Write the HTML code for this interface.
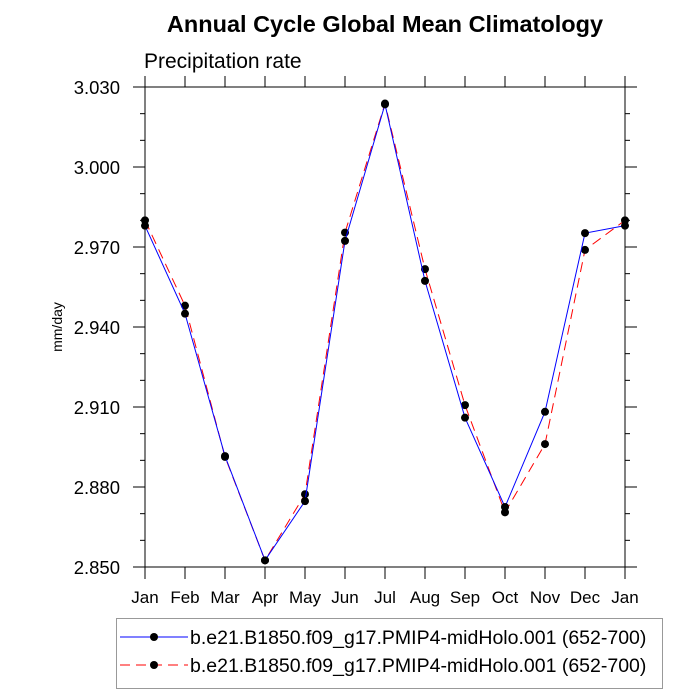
<!DOCTYPE html>
<html><head><meta charset="utf-8"><style>
body{margin:0;background:#fff;}
svg{display:block;font-family:"Liberation Sans",sans-serif;}
</style></head><body>
<svg id="chart" width="700" height="700" viewBox="0 0 700 700" xmlns="http://www.w3.org/2000/svg">
<text x="385" y="32" text-anchor="middle" font-size="23.5" font-weight="bold">Annual Cycle Global Mean Climatology</text>
<text x="144" y="68" font-size="21">Precipitation rate</text>
<text transform="translate(62,327) rotate(-90)" text-anchor="middle" font-size="14">mm/day</text>
<g id="axes"></g>
<g id="series"></g>
<g>
<rect x="116.5" y="618.5" width="546" height="70" fill="#fff" stroke="#999" stroke-width="1"/>
<g>
<line x1="120" y1="637" x2="188" y2="637" stroke="#0000ff" stroke-width="1"/>
<circle cx="154" cy="637" r="4" fill="#000"/>
<text x="190" y="644" font-size="19.5">b.e21.B1850.f09_g17.PMIP4-midHolo.001 (652-700)</text>
</g>
<g>
<line x1="120" y1="665" x2="188" y2="665" stroke="#ff0000" stroke-width="1" stroke-dasharray="10,6"/>
<circle cx="154" cy="665" r="4" fill="#000"/>
<text x="190" y="672" font-size="19.5">b.e21.B1850.f09_g17.PMIP4-midHolo.001 (652-700)</text>
</g>
</g>
</svg>
<script>
const months = ["Jan","Feb","Mar","Apr","May","Jun","Jul","Aug","Sep","Oct","Nov","Dec","Jan"];
const yTicks = [2.850,2.880,2.910,2.940,2.970,3.000,3.030];
const yTickLabels = ["2.850","2.880","2.910","2.940","2.970","3.000","3.030"];
const seriesBlue = [2.978,2.945,2.8916,2.8525,2.8747,2.9723,3.0235,2.9573,2.906,2.8725,2.9082,2.9752,2.978];
const seriesRed = [2.980,2.948,2.8913,2.8525,2.8773,2.9754,3.0238,2.9617,2.9107,2.8705,2.8961,2.9689,2.980];

const L=145,R=625,T=87,B=567,yMin=2.850,yMax=3.030;
const xs=i=>L+(R-L)*i/(months.length-1);
const ys=v=>B-(v-yMin)/(yMax-yMin)*(B-T);
const NS="http://www.w3.org/2000/svg";
const axes=document.getElementById('axes'), ser=document.getElementById('series');
function mk(tag,attrs,parent){const e=document.createElementNS(NS,tag);for(const k in attrs)e.setAttribute(k,attrs[k]);parent.appendChild(e);return e;}

const frame=mk('rect',{x:L,y:T,width:R-L,height:B-T,fill:'none',stroke:'#000','stroke-width':1},axes);


months.forEach((m,i)=>{
  const x=xs(i);
  mk('line',{x1:x,y1:B,x2:x,y2:B+12,stroke:'#000'},axes);
  mk('line',{x1:x,y1:T,x2:x,y2:T-11,stroke:'#000'},axes);
  const t=mk('text',{x:x,y:603,'text-anchor':'middle','font-size':17},axes);
  t.textContent=m;
  
  
});
for(let v=yMin;v<=yMax+1e-9;v+=0.010){
  const y=ys(v);
  mk('line',{x1:L,y1:y,x2:L-5,y2:y,stroke:'#000'},axes);
  mk('line',{x1:R,y1:y,x2:R+5,y2:y,stroke:'#000'},axes);
}
yTicks.forEach((v,i)=>{
  const y=ys(v);
  mk('line',{x1:L,y1:y,x2:L-12,y2:y,stroke:'#000'},axes);
  mk('line',{x1:R,y1:y,x2:R+12,y2:y,stroke:'#000'},axes);
  const t=mk('text',{x:120,y:y+7,'text-anchor':'end','font-size':18.5},axes);
  t.textContent=yTickLabels[i];
  
  
});
function drawSeries(vals,color,dash,name){
  const pts=vals.map((v,i)=>xs(i)+','+ys(v)).join(' ');
  const pl=mk('polyline',{points:pts,fill:'none',stroke:color,'stroke-width':1,'stroke-dasharray':dash},ser);
  
  
  vals.forEach((v,i)=>{
    const c=mk('circle',{cx:xs(i),cy:ys(v),r:4,fill:'#000'},ser);
    
    
  });
}
drawSeries(seriesRed,'#ff0000','10,6','series-red');
drawSeries(seriesBlue,'#0000ff','none','series-blue');
</script>
</body></html>
